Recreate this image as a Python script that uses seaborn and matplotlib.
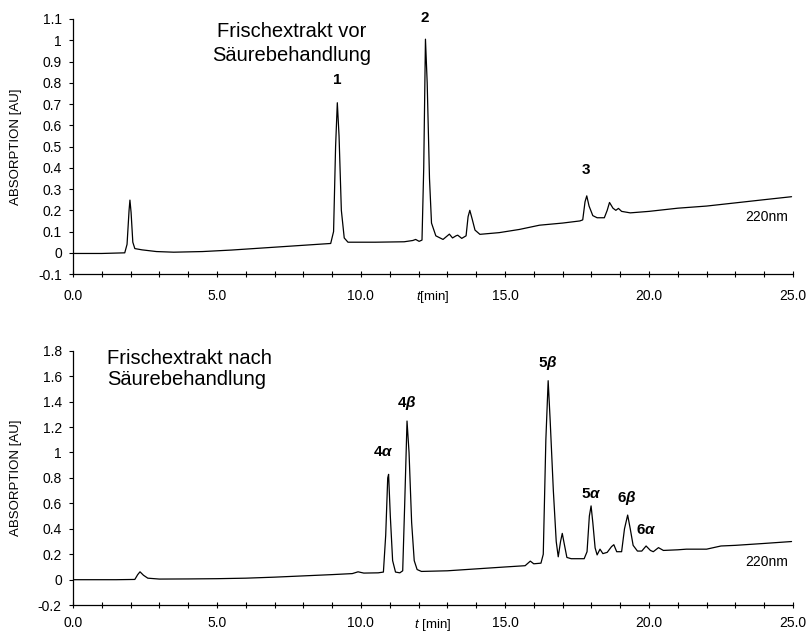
import matplotlib
matplotlib.use("Agg")
import matplotlib.pyplot as plt
from matplotlib.ticker import MultipleLocator, FixedLocator
import seaborn as sns

# Chromatogramm vor Säurebehandlung (Zeit in min, Absorption in AU)
t_vor = [0.0, 1.0, 1.80, 1.88, 1.95, 1.98, 2.02, 2.08, 2.15, 2.4, 2.9, 3.5, 4.5, 5.5,
         6.5, 7.5, 8.5, 8.95, 9.05, 9.12, 9.18, 9.24, 9.32, 9.42, 9.55, 10.5, 11.5,
         11.8, 11.9, 12.02, 12.12, 12.18, 12.24, 12.30, 12.38, 12.45, 12.6, 12.85,
         13.0, 13.07, 13.18, 13.3, 13.36, 13.5, 13.65, 13.72, 13.78, 13.86, 13.96,
         14.13, 14.8, 15.5, 16.2, 17.0, 17.6, 17.7, 17.78, 17.84, 17.92, 18.05, 18.2,
         18.45, 18.55, 18.63, 18.75, 18.85, 18.94, 19.05, 19.35, 20.0, 21.0, 22.0,
         23.0, 24.0, 24.95]
a_vor = [-0.003, -0.003, 0.000, 0.04, 0.20, 0.248, 0.19, 0.05, 0.020, 0.014, 0.006,
         0.003, 0.006, 0.013, 0.022, 0.031, 0.040, 0.044, 0.10, 0.50, 0.706, 0.55,
         0.20, 0.07, 0.050, 0.050, 0.052, 0.058, 0.063, 0.054, 0.06, 0.40, 1.005,
         0.80, 0.35, 0.14, 0.08, 0.063, 0.080, 0.088, 0.070, 0.080, 0.083, 0.068,
         0.08, 0.17, 0.20, 0.16, 0.107, 0.087, 0.095, 0.11, 0.13, 0.14, 0.15, 0.155,
         0.24, 0.268, 0.22, 0.175, 0.165, 0.165, 0.20, 0.237, 0.21, 0.20, 0.209,
         0.195, 0.188, 0.195, 0.21, 0.22, 0.235, 0.25, 0.264]

# Chromatogramm nach Säurebehandlung
t_nach = [0.0, 1.5, 2.15, 2.25, 2.33, 2.45, 2.6, 3.0, 4.0, 5.0, 6.0, 7.0, 8.0, 9.0,
          9.7, 9.9, 10.1, 10.6, 10.78, 10.86, 10.93, 10.96, 11.02, 11.10, 11.2,
          11.35, 11.45, 11.52, 11.60, 11.67, 11.76, 11.85, 11.95, 12.1, 13.0, 14.0,
          15.0, 15.7, 15.88, 16.0, 16.25, 16.33, 16.42, 16.5, 16.57, 16.68, 16.78,
          16.85, 16.93, 16.99, 17.06, 17.15, 17.3, 17.75, 17.85, 17.93, 17.99, 18.05,
          18.13, 18.2, 18.3, 18.4, 18.55, 18.7, 18.78, 18.88, 19.05, 19.15, 19.26,
          19.35, 19.45, 19.6, 19.75, 19.9, 20.05, 20.15, 20.33, 20.5, 21.0, 21.3,
          22.0, 22.5, 23.0, 24.0, 24.95]
a_nach = [0.0, 0.0, 0.002, 0.04, 0.062, 0.035, 0.012, 0.005, 0.006, 0.008, 0.012,
          0.02, 0.03, 0.04, 0.048, 0.062, 0.052, 0.054, 0.06, 0.35, 0.80, 0.828,
          0.50, 0.15, 0.06, 0.054, 0.07, 0.60, 1.247, 1.0, 0.45, 0.15, 0.08, 0.065,
          0.07, 0.085, 0.10, 0.11, 0.146, 0.125, 0.13, 0.20, 1.10, 1.564, 1.25, 0.70,
          0.30, 0.18, 0.30, 0.364, 0.28, 0.175, 0.165, 0.165, 0.22, 0.50, 0.58, 0.45,
          0.25, 0.195, 0.24, 0.205, 0.215, 0.26, 0.275, 0.22, 0.22, 0.40, 0.508, 0.40,
          0.27, 0.225, 0.225, 0.265, 0.23, 0.22, 0.252, 0.23, 0.235, 0.24, 0.24,
          0.265, 0.27, 0.285, 0.30]

# Peak-Beschriftungen (Text, t, y)
peaks_vor = [("1", 9.17, 0.813), ("2", 12.22, 1.103), ("3", 17.82, 0.389)]
peaks_nach = [(r"4$\mathbf{\alpha}$", 10.78, 1.005), (r"4$\mathbf{\beta}$", 11.59, 1.39),
              (r"5$\mathbf{\beta}$", 16.49, 1.70), (r"5$\mathbf{\alpha}$", 18.01, 0.673),
              (r"6$\mathbf{\beta}$", 19.22, 0.642), (r"6$\mathbf{\alpha}$", 19.92, 0.39)]

yticks_vor = [-0.1, 0, 0.1, 0.2, 0.3, 0.4, 0.5, 0.6, 0.7, 0.8, 0.9, 1, 1.1]
yticks_nach = [-0.2, 0, 0.2, 0.4, 0.6, 0.8, 1, 1.2, 1.4, 1.6, 1.8]
xticks = [0, 5, 10, 15, 20, 25]

sns.set_style("ticks")
plt.rcParams['font.family'] = ['Liberation Sans', 'DejaVu Sans']
plt.rcParams['mathtext.fontset'] = 'custom'
plt.rcParams['mathtext.rm'] = 'Liberation Sans'
plt.rcParams['mathtext.it'] = 'Liberation Sans:italic'
plt.rcParams['mathtext.bf'] = 'Liberation Sans:bold:italic'
for key in ('text.color', 'axes.labelcolor', 'xtick.color', 'ytick.color'):
    plt.rcParams[key] = 'black'

fig = plt.figure(figsize=(8.1, 6.33), dpi=100)
ax1 = fig.add_axes([0.090, 0.567, 0.889, 0.403])
ax2 = fig.add_axes([0.090, 0.044, 0.889, 0.402])

panels = [
    (ax1, t_vor, a_vor, yticks_vor, (-0.1, 1.1), peaks_vor, r"$t$[min]", 0.167, 9, -0.058),
    (ax2, t_nach, a_nach, yticks_nach, (-0.2, 1.8), peaks_nach, r"$t$ [min]", 0.138, 6, -0.047),
]

for ax, t, a, yt, ylim, peaks, xlab, nm_y, xpad, lab_y in panels:
    sns.lineplot(x=t, y=a, ax=ax, color="black", linewidth=0.9)
    ax.set_xlim(0, 25)
    ax.set_ylim(*ylim)
    ax.yaxis.set_major_locator(FixedLocator(yt))
    ax.set_yticklabels([f"{v:g}" for v in yt])
    ax.xaxis.set_major_locator(FixedLocator(xticks))
    ax.set_xticklabels([f"{v:.1f}" for v in xticks])
    ax.xaxis.set_minor_locator(MultipleLocator(1))
    ax.tick_params(axis="y", direction="out", length=3, width=0.8, pad=5, labelsize=10)
    ax.tick_params(axis="x", which="both", direction="inout", length=4, width=0.8,
                   pad=xpad, labelsize=10)
    sns.despine(ax=ax)
    for sp in ("left", "bottom"):
        ax.spines[sp].set_linewidth(0.9)
        ax.spines[sp].set_color("black")
    ax.set_ylabel("ABSORPTION [AU]", fontsize=9.5)
    ax.yaxis.set_label_coords(-0.071, 0.5)
    ax.set_xlabel(xlab, fontsize=9.5)
    ax.xaxis.set_label_coords(0.5, lab_y)
    for lab, px, py in peaks:
        ax.text(px, py, lab, ha="center", va="center", fontsize=11,
                fontweight="bold", clip_on=False)
    ax.text(24.1, nm_y, "220nm", ha="center", va="center", fontsize=10)

ax1.text(7.6, 1.04, "Frischextrakt vor", ha="center", va="center", fontsize=14.5)
ax1.text(7.6, 0.926, "Säurebehandlung", ha="center", va="center", fontsize=14.5)
ax2.text(1.19, 1.735, "Frischextrakt nach", ha="left", va="center", fontsize=14.5)
ax2.text(1.19, 1.57, "Säurebehandlung", ha="left", va="center", fontsize=14.5)

fig.savefig("out.png", dpi=100)
